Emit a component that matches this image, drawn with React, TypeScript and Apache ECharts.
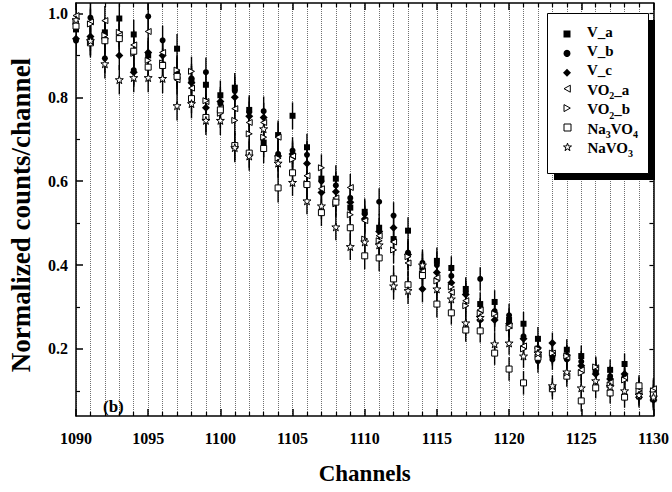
import React, { useEffect, useRef } from 'react';
import * as echarts from 'echarts';

const channels = [
  1090, 1091, 1092, 1093, 1094, 1095, 1096, 1097, 1098, 1099,
  1100, 1101, 1102, 1103, 1104, 1105, 1106, 1107, 1108, 1109,
  1110, 1111, 1112, 1113, 1114, 1115, 1116, 1117, 1118, 1119,
  1120, 1121, 1122, 1123, 1124, 1125, 1126, 1127, 1128, 1129, 1130,
];

const vA = [
  0.962, 0.935, 0.955, 0.988, 0.95, 0.9, 0.878, 0.916, 0.84, 0.83,
  0.805, 0.823, 0.77, 0.692, 0.71, 0.756, 0.681, 0.606, 0.606, 0.537,
  0.527, 0.489, 0.462, 0.482, 0.395, 0.41, 0.393, 0.343, 0.307, 0.312,
  0.269, 0.26, 0.224, 0.185, 0.198, 0.183, 0.15, 0.15, 0.164, 0.107, 0.08,
];
const vB = [
  0.935, 0.99, 0.893, 0.945, 0.865, 0.993, 0.936, 0.86, 0.845, 0.86,
  0.785, 0.815, 0.765, 0.767, 0.665, 0.673, 0.663, 0.6, 0.59, 0.56,
  0.522, 0.551, 0.518, 0.43, 0.405, 0.4, 0.374, 0.335, 0.367, 0.29,
  0.28, 0.23, 0.171, 0.175, 0.175, 0.17, 0.145, 0.135, 0.135, 0.095, 0.085,
];
const vC = [
  0.94, 0.945, 0.94, 0.9, 0.86, 0.907, 0.9, 0.855, 0.835, 0.775,
  0.79, 0.8, 0.755, 0.752, 0.66, 0.665, 0.642, 0.573, 0.575, 0.55,
  0.51, 0.48, 0.489, 0.425, 0.343, 0.382, 0.358, 0.33, 0.269, 0.269,
  0.26, 0.224, 0.202, 0.214, 0.185, 0.16, 0.14, 0.128, 0.14, 0.085, 0.078,
];
const vo2A = [
  0.995, 0.98, 0.983, 0.95, 0.925, 0.957, 0.907, 0.842, 0.822, 0.79,
  0.775, 0.773, 0.74, 0.74, 0.705, 0.66, 0.613, 0.582, 0.56, 0.585,
  0.506, 0.47, 0.455, 0.405, 0.385, 0.37, 0.335, 0.315, 0.293, 0.28,
  0.255, 0.207, 0.186, 0.19, 0.18, 0.15, 0.155, 0.12, 0.13, 0.1, 0.105,
];
const vo2B = [
  0.98, 0.975, 0.948, 0.955, 0.905, 0.888, 0.882, 0.865, 0.862, 0.792,
  0.762, 0.745, 0.713, 0.705, 0.655, 0.652, 0.594, 0.632, 0.546, 0.52,
  0.462, 0.458, 0.436, 0.42, 0.379, 0.362, 0.348, 0.303, 0.285, 0.284,
  0.25, 0.2, 0.2, 0.19, 0.183, 0.143, 0.157, 0.114, 0.126, 0.1, 0.1,
];
const na3vo4 = [
  0.97, 0.93, 0.935, 0.94, 0.91, 0.872, 0.876, 0.85, 0.797, 0.752,
  0.77, 0.685, 0.667, 0.678, 0.584, 0.62, 0.592, 0.525, 0.55, 0.489,
  0.422, 0.417, 0.367, 0.353, 0.375, 0.307, 0.286, 0.245, 0.243, 0.19,
  0.152, 0.119, 0.18, 0.105, 0.135, 0.076, 0.107, 0.095, 0.085, 0.112, 0.09,
];
const navo3 = [
  0.985, 0.935, 0.88, 0.842, 0.847, 0.847, 0.845, 0.78, 0.785, 0.745,
  0.745, 0.68, 0.66, 0.725, 0.643, 0.597, 0.553, 0.541, 0.491, 0.444,
  0.455, 0.448, 0.35, 0.339, 0.4, 0.343, 0.319, 0.262, 0.275, 0.212,
  0.214, 0.183, 0.19, 0.112, 0.145, 0.107, 0.124, 0.11, 0.1, 0.09, 0.085,
];
// half-length of the error bar at each channel
const errors = [
  0.035, 0.035, 0.035, 0.035, 0.035, 0.035, 0.035, 0.035, 0.035, 0.035,
  0.035, 0.035, 0.035, 0.035, 0.035, 0.032, 0.032, 0.032, 0.032, 0.032,
  0.032, 0.032, 0.032, 0.032, 0.032, 0.032, 0.028, 0.028, 0.028, 0.028,
  0.028, 0.028, 0.028, 0.025, 0.025, 0.025, 0.025, 0.025, 0.025, 0.025, 0.025,
];

const yMajorTicks = [0.2, 0.4, 0.6, 0.8, 1.0];
const yMinorTicks = [0.1, 0.3, 0.5, 0.7, 0.9];
const yRightTicks = [0.1, 0.2, 0.3, 0.4, 0.5, 0.6, 0.7, 0.8, 0.9, 1.0];

const seriesNames = ['V_a', 'V_b', 'V_c', 'VO2_a', 'VO2_b', 'Na3VO4', 'NaVO3'];
const seriesValues = [vA, vB, vC, vo2A, vo2B, na3vo4, navo3];

const STAR = 'path://M50 0 L61.8 35.1 L98.9 35.1 L69 57.3 L80.4 92.4 L50 70.7 L19.6 92.4 L31 57.3 L1.1 35.1 L38.2 35.1 Z';
const TRI_LEFT = 'path://M0 50 L90 0 L90 100 Z';
const TRI_RIGHT = 'path://M90 50 L0 0 L0 100 Z';

const markerStyles = [
  { symbol: 'rect', size: 6, legendSize: 7, filled: true },
  { symbol: 'circle', size: 6, legendSize: 7, filled: true },
  { symbol: 'diamond', size: 8, legendSize: 8, filled: true },
  { symbol: TRI_LEFT, size: 6, legendSize: 7, filled: false },
  { symbol: TRI_RIGHT, size: 6, legendSize: 7, filled: false },
  { symbol: 'rect', size: 6, legendSize: 7, filled: false },
  { symbol: STAR, size: 8, legendSize: 8, filled: false },
];

const legendRich: Record<string, string> = {
  V_a: '{t|V_a}',
  V_b: '{t|V_b}',
  V_c: '{t|V_c}',
  VO2_a: '{t|VO}{s|2}{t|_a}',
  VO2_b: '{t|VO}{s|2}{t|_b}',
  Na3VO4: '{t|Na}{s|3}{t|VO}{s|4}',
  NaVO3: '{t|NaVO}{s|3}',
};

const FONT = '"Liberation Serif", "Times New Roman", serif';

export default function App() {
  const ref = useRef<HTMLDivElement>(null);
  useEffect(() => {
    if (!ref.current) return;
    const chart = echarts.init(ref.current, undefined, { renderer: 'svg' });

    const errData: number[][] = [];
    seriesValues.forEach((vals) => {
      vals.forEach((v, i) => errData.push([channels[i], v, errors[i]]));
    });

    const styleFor = (filled: boolean) => ({
      color: filled ? '#000' : '#fff',
      borderColor: '#000',
      borderWidth: filled ? 0 : 1,
      opacity: 1,
    });

    const scatterSeries = seriesNames.map((name, k) => {
      const m = markerStyles[k];
      return {
        type: 'scatter',
        name,
        xAxisIndex: 0,
        yAxisIndex: 0,
        symbol: m.symbol,
        symbolSize: m.size,
        z: 3,
        itemStyle: styleFor(m.filled),
        emphasis: { disabled: true },
        data: channels.map((c, i) => [c, seriesValues[k][i]]),
      };
    });

    const legends = seriesNames.map((name, k) => {
      const m = markerStyles[k];
      const centerY = 34 + k * 19.4;
      return {
        data: [{ name, icon: m.symbol, itemStyle: styleFor(m.filled) }],
        orient: 'vertical',
        left: 567 - m.legendSize / 2,
        top: centerY - 10,
        padding: 0,
        itemWidth: m.legendSize,
        itemHeight: m.legendSize,
        z: 20,
        selectedMode: false,
        formatter: (n: string) => legendRich[n] || n,
        textStyle: {
          color: '#000',
          fontFamily: FONT,
          fontWeight: 'bold',
          fontSize: 15,
          height: 20,
          padding: [0, 0, 0, 15 - m.legendSize / 2],
          rich: {
            t: { fontFamily: FONT, fontWeight: 'bold', fontSize: 15, color: '#000' },
            s: { fontFamily: FONT, fontWeight: 'bold', fontSize: 10, color: '#000', verticalAlign: 'top', padding: [12, 0, 0, 0] },
          },
        },
      };
    });

    const axisLineStyle = { color: '#000', width: 1.5 };
    const gridLine = { color: '#707070', type: 'dotted', width: 1 };

    const option: any = {
      animation: false,
      backgroundColor: '#fff',
      grid: { left: 76, right: 16, top: 3, bottom: 76, containLabel: false },
      xAxis: [
        {
          type: 'value',
          position: 'bottom',
          min: 1090,
          max: 1130,
          interval: 5,
          axisLine: { show: true, lineStyle: axisLineStyle },
          axisTick: { show: true, inside: true, length: 7, lineStyle: axisLineStyle },
          minorTick: { show: true, splitNumber: 5, length: 4, lineStyle: { color: '#000', width: 1.2 } },
          splitLine: { show: true, lineStyle: gridLine },
          minorSplitLine: { show: true, lineStyle: gridLine },
          axisLabel: {
            color: '#000',
            fontFamily: FONT,
            fontWeight: 'bold',
            fontSize: 16,
            margin: 14,
            formatter: (v: number) => String(v),
          },
          name: 'Channels',
          nameLocation: 'middle',
          nameGap: 46,
          nameTextStyle: { color: '#000', fontFamily: FONT, fontWeight: 'bold', fontSize: 23 },
        },
        {
          type: 'value',
          position: 'top',
          min: 1090,
          max: 1130,
          interval: 5,
          axisLine: { show: true, lineStyle: axisLineStyle },
          axisTick: { show: true, inside: true, length: 7, lineStyle: axisLineStyle },
          minorTick: { show: true, splitNumber: 5, length: 4, lineStyle: { color: '#000', width: 1.2 } },
          splitLine: { show: false },
          axisLabel: { show: false },
        },
      ],
      yAxis: [
        {
          type: 'value',
          position: 'left',
          min: 0.04,
          max: 1.025,
          axisLine: { show: true, lineStyle: axisLineStyle },
          axisTick: { show: true, inside: true, length: 7, customValues: yMajorTicks, lineStyle: axisLineStyle },
          splitLine: { show: false },
          axisLabel: {
            customValues: yMajorTicks,
            formatter: (v: number) => v.toFixed(1),
            color: '#000',
            fontFamily: FONT,
            fontWeight: 'bold',
            fontSize: 16,
            margin: 8,
          },
        },
        {
          type: 'value',
          position: 'left',
          min: 0.04,
          max: 1.025,
          axisLine: { show: false },
          axisTick: { show: true, inside: true, length: 4, customValues: yMinorTicks, lineStyle: { color: '#000', width: 1.2 } },
          splitLine: { show: false },
          axisLabel: { show: false },
        },
        {
          type: 'value',
          position: 'right',
          min: 0.04,
          max: 1.025,
          axisLine: { show: true, lineStyle: axisLineStyle },
          axisTick: { show: true, inside: true, length: 4, customValues: yRightTicks, lineStyle: { color: '#000', width: 1.2 } },
          splitLine: { show: false },
          axisLabel: { show: false },
        },
      ],
      legend: legends,
      graphic: [
        { type: 'rect', left: 554, top: 20, z: 10, shape: { width: 101, height: 160 }, style: { fill: '#000' } },
        { type: 'rect', left: 547, top: 13, z: 11, shape: { width: 101, height: 160 }, style: { fill: '#fff', stroke: '#000', lineWidth: 1 } },
        { type: 'text', left: 103, top: 398, z: 11, style: { text: '(b)', font: 'bold 17px "Liberation Serif"', fill: '#000' } },
        {
          type: 'text',
          x: 21,
          y: 215,
          rotation: Math.PI / 2,
          z: 11,
          style: {
            text: 'Normalized counts/channel',
            font: 'bold 27px "Liberation Serif"',
            fill: '#000',
            align: 'center',
            verticalAlign: 'middle',
          },
        },
      ],
      series: [
        {
          type: 'custom',
          name: 'errbars',
          xAxisIndex: 0,
          yAxisIndex: 0,
          z: 2,
          silent: true,
          clip: true,
          encode: { x: 0, y: 1 },
          data: errData,
          renderItem: (params: any, api: any) => {
            const x = api.value(0);
            const v = api.value(1);
            const e = api.value(2);
            const p1 = api.coord([x, v + e]);
            const p2 = api.coord([x, v - e]);
            return {
              type: 'line',
              shape: { x1: p1[0], y1: p1[1], x2: p2[0], y2: p2[1] },
              style: { stroke: '#000', lineWidth: 1.4 },
            };
          },
        },
        ...scatterSeries,
      ],
    };
    chart.setOption(option);
    return () => chart.dispose();
  }, []);
  return <div ref={ref} style={{ width: 672, height: 492, position: 'absolute', left: 0, top: 0 }} />;
}
